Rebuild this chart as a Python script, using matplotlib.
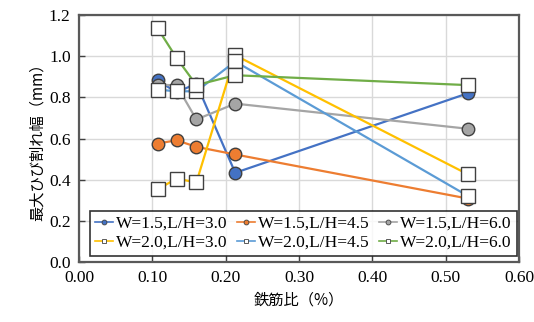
import matplotlib
matplotlib.use('Agg')
import matplotlib.pyplot as plt
from matplotlib.lines import Line2D

# 鉄筋比 (%) for each specimen group
rebar_ratio = [0.107, 0.133, 0.160, 0.213, 0.530]

labels = ['W=1.5,L/H=3.0', 'W=1.5,L/H=4.5', 'W=1.5,L/H=6.0',
          'W=2.0,L/H=3.0', 'W=2.0,L/H=4.5', 'W=2.0,L/H=6.0']

# max crack width (mm)
w15_lh30 = [0.883, 0.825, 0.867, 0.434, 0.820]
w15_lh45 = [0.576, 0.592, 0.560, 0.523, 0.309]
w15_lh60 = [0.862, 0.859, 0.693, 0.770, 0.648]
w20_lh30 = [0.353, 0.406, 0.387, 1.005, 0.427]
w20_lh45 = [0.838, 0.830, 0.830, 0.975, 0.322]
w20_lh60 = [1.137, 0.992, 0.860, 0.908, 0.860]

series = [w15_lh30, w15_lh45, w15_lh60, w20_lh30, w20_lh45, w20_lh60]
colors = ['#4472C4', '#ED7D31', '#A5A5A5', '#FFC000', '#5B9BD5', '#70AD47']
markers = ['o', 'o', 'o', 's', 's', 's']

serif = ['Liberation Serif', 'DejaVu Serif']
cjk = ['Noto Sans CJK JP', 'DejaVu Sans']

fig = plt.figure(figsize=(5.34, 3.22), dpi=100)
ax = fig.add_axes([0.148, 0.186, 0.824, 0.767])

for vals, lab, c, m in zip(series, labels, colors, markers):
    face = c if m == 'o' else 'white'
    ax.plot(rebar_ratio, vals, color=c, lw=1.6, marker=m,
            markersize=9 if m == 'o' else 9.5, markerfacecolor=face,
            markeredgecolor='#404040', markeredgewidth=1.0, label=lab)

ax.set_xlim(0, 0.6)
ax.set_ylim(0, 1.2)
ax.set_xticks([0.0, 0.1, 0.2, 0.3, 0.4, 0.5, 0.6])
ax.set_yticks([0.0, 0.2, 0.4, 0.6, 0.8, 1.0, 1.2])
ax.set_xticklabels([f'{v:.2f}' for v in ax.get_xticks()], family=serif, fontsize=12.5)
ax.set_yticklabels([f'{v:.1f}' for v in ax.get_yticks()], family=serif, fontsize=12.5)
ax.tick_params(direction='in', length=4, width=1, color='#404040', pad=6)
ax.grid(True, color='#d9d9d9', lw=1)
ax.set_axisbelow(True)
for s in ax.spines.values():
    s.set_color('#595959')
    s.set_linewidth(1.6)

ax.set_xlabel('鉄筋比（%）', family=cjk, fontsize=11, labelpad=4)
ax.set_ylabel('最大ひび割れ幅（mm）', family=cjk, fontsize=11, labelpad=2)

handles = [Line2D([], [], color=c, lw=1.2, marker=m, markersize=3.5,
                  markerfacecolor=(c if m == 'o' else 'white'),
                  markeredgecolor='#404040', markeredgewidth=0.6)
           for c, m in zip(colors, markers)]
# legend fills column by column; reorder so each row holds one W value
order = [0, 3, 1, 4, 2, 5]
leg = ax.legend([handles[i] for i in order], [labels[i] for i in order],
                ncol=3, loc='lower center',
                bbox_to_anchor=(0.51, 0.025), prop={'family': serif, 'size': 12.5},
                handlelength=1.0, handletextpad=0.2, columnspacing=0.55,
                borderpad=0.3, labelspacing=0.15, borderaxespad=0,
                frameon=True, fancybox=False, edgecolor='black')
leg.get_frame().set_linewidth(1.2)

fig.savefig('out.png', dpi=100)
